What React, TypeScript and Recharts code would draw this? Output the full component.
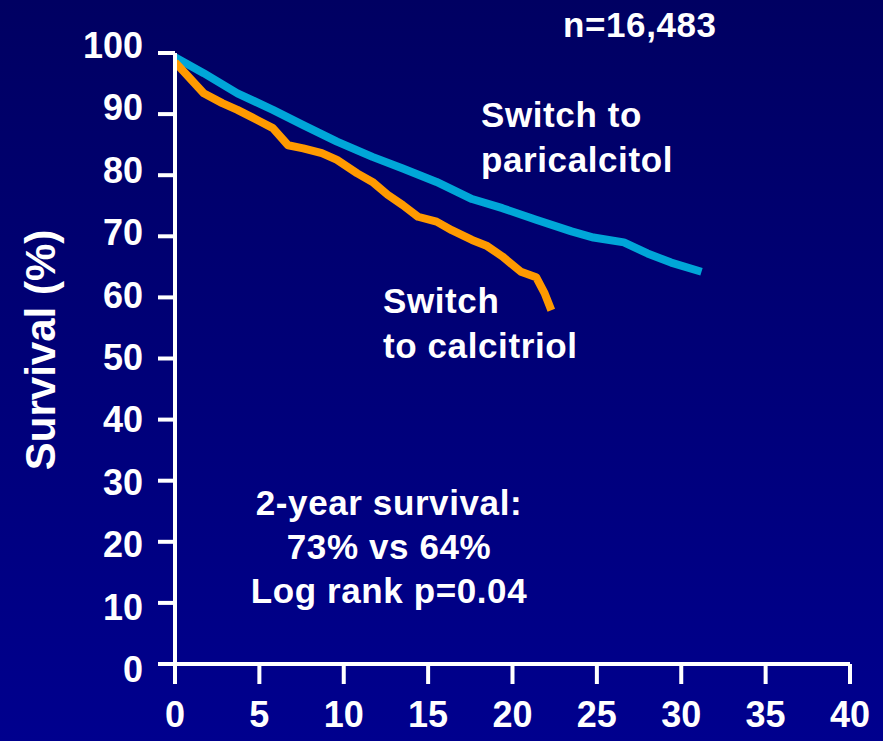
import { LineChart, Line, XAxis, YAxis } from "recharts"

// months / survival %
const paricalcitolMonths = [0, 1.7, 3.7, 5.8, 7.6, 9.6, 11.7, 13.5, 15.5, 17.6, 19.4, 21.4, 23.5, 24.8, 26.6, 28.0, 29.4, 31.2]
const paricalcitolSurvival = [99.3, 96.7, 93.4, 90.7, 88.2, 85.5, 83.0, 81.1, 78.9, 76.1, 74.6, 72.7, 70.8, 69.8, 69.0, 67.2, 65.7, 64.2]

const calcitriolMonths = [0, 0.8, 1.7, 2.8, 3.7, 4.9, 5.8, 6.7, 7.6, 8.7, 9.6, 10.8, 11.7, 12.6, 13.5, 14.4, 15.5, 16.4, 17.6, 18.5, 19.4, 20.5, 21.4, 21.9, 22.3]
const calcitriolSurvival = [98.5, 96.1, 93.4, 91.8, 90.7, 89.0, 87.7, 84.9, 84.4, 83.6, 82.5, 80.3, 78.9, 76.8, 75.1, 73.2, 72.4, 71.0, 69.4, 68.4, 66.7, 64.2, 63.3, 60.7, 57.9]

const xTicks = [0, 5, 10, 15, 20, 25, 30, 35, 40]
const yTicks = [0, 10, 20, 30, 40, 50, 60, 70, 80, 90, 100]

const paricalcitolData = paricalcitolMonths.map((m, i) => ({ month: m, survival: paricalcitolSurvival[i] }))
const calcitriolData = calcitriolMonths.map((m, i) => ({ month: m, survival: calcitriolSurvival[i] }))

const FONT = "'Liberation Sans', Arial, sans-serif"
const W = 883
const H = 741

const YTick = (props: any) => {
    const { x, y, payload } = props
    // labels drift a little from the ticks in the original slide
    const shift = 6 - 0.13 * payload.value
    return (
        <text x={x} y={y + shift} dy={12} textAnchor="end" fill="#fff" fontFamily={FONT} fontWeight="bold" fontSize={36}>
            {payload.value}
        </text>
    )
}

const XTick = (props: any) => {
    const { x, y, payload } = props
    return (
        <text x={x} y={y} dy={35} textAnchor="middle" fill="#fff" fontFamily={FONT} fontWeight="bold" fontSize={36}>
            {payload.value}
        </text>
    )
}

const txt = { fill: "#fff", fontFamily: FONT, fontWeight: "bold" as const, fontSize: 35, letterSpacing: 0.6 }

const App = () => {
    return (
        <div style={{ position: "relative", width: W, height: H, background: "linear-gradient(180deg, #000062 0%, #00007a 55%, #00008e 100%)" }}>
            <style>{`body{margin:0}`}</style>
            <LineChart width={W} height={H} margin={{ top: 53, right: 33, bottom: 0, left: 0 }}>
                <XAxis
                    type="number"
                    dataKey="month"
                    domain={[0, 40]}
                    ticks={xTicks}
                    height={77}
                    axisLine={{ stroke: "#fff", strokeWidth: 4 }}
                    tickLine={{ stroke: "#fff", strokeWidth: 4 }}
                    tickSize={20}
                    tickMargin={8}
                    tick={<XTick />}
                    allowDataOverflow
                />
                <YAxis
                    type="number"
                    dataKey="survival"
                    domain={[0, 100]}
                    ticks={yTicks}
                    width={175}
                    axisLine={{ stroke: "#fff", strokeWidth: 4 }}
                    tickLine={{ stroke: "#fff", strokeWidth: 4 }}
                    tickSize={17}
                    tickMargin={15}
                    tick={<YTick />}
                    interval={0}
                />
                <Line data={paricalcitolData} dataKey="survival" type="linear" stroke="#00a6d8" strokeWidth={8} dot={false} isAnimationActive={false} strokeLinejoin="round" />
                <Line data={calcitriolData} dataKey="survival" type="linear" stroke="#ff9a00" strokeWidth={8} dot={false} isAnimationActive={false} strokeLinejoin="round" />
            </LineChart>
            <svg width={W} height={H} style={{ position: "absolute", left: 0, top: 0, pointerEvents: "none" }}>
                <text x={563} y={37} {...txt}>n=16,483</text>
                <text x={481} y={127} {...txt}>Switch to</text>
                <text x={481} y={172} {...txt}>paricalcitol</text>
                <text x={383} y={313} {...txt}>Switch</text>
                <text x={383} y={358} {...txt}>to calcitriol</text>
                <text x={389} y={515} textAnchor="middle" {...txt}>2-year survival:</text>
                <text x={389} y={559} textAnchor="middle" {...txt}>73% vs 64%</text>
                <text x={389} y={603} textAnchor="middle" {...txt}>Log rank p=0.04</text>
                <text x={55} y={350} textAnchor="middle" transform="rotate(-90 55 350)" fill="#fff" fontFamily={FONT} fontWeight="bold" fontSize={42}>
                    Survival (%)
                </text>
            </svg>
        </div>
    )
}

export default App
